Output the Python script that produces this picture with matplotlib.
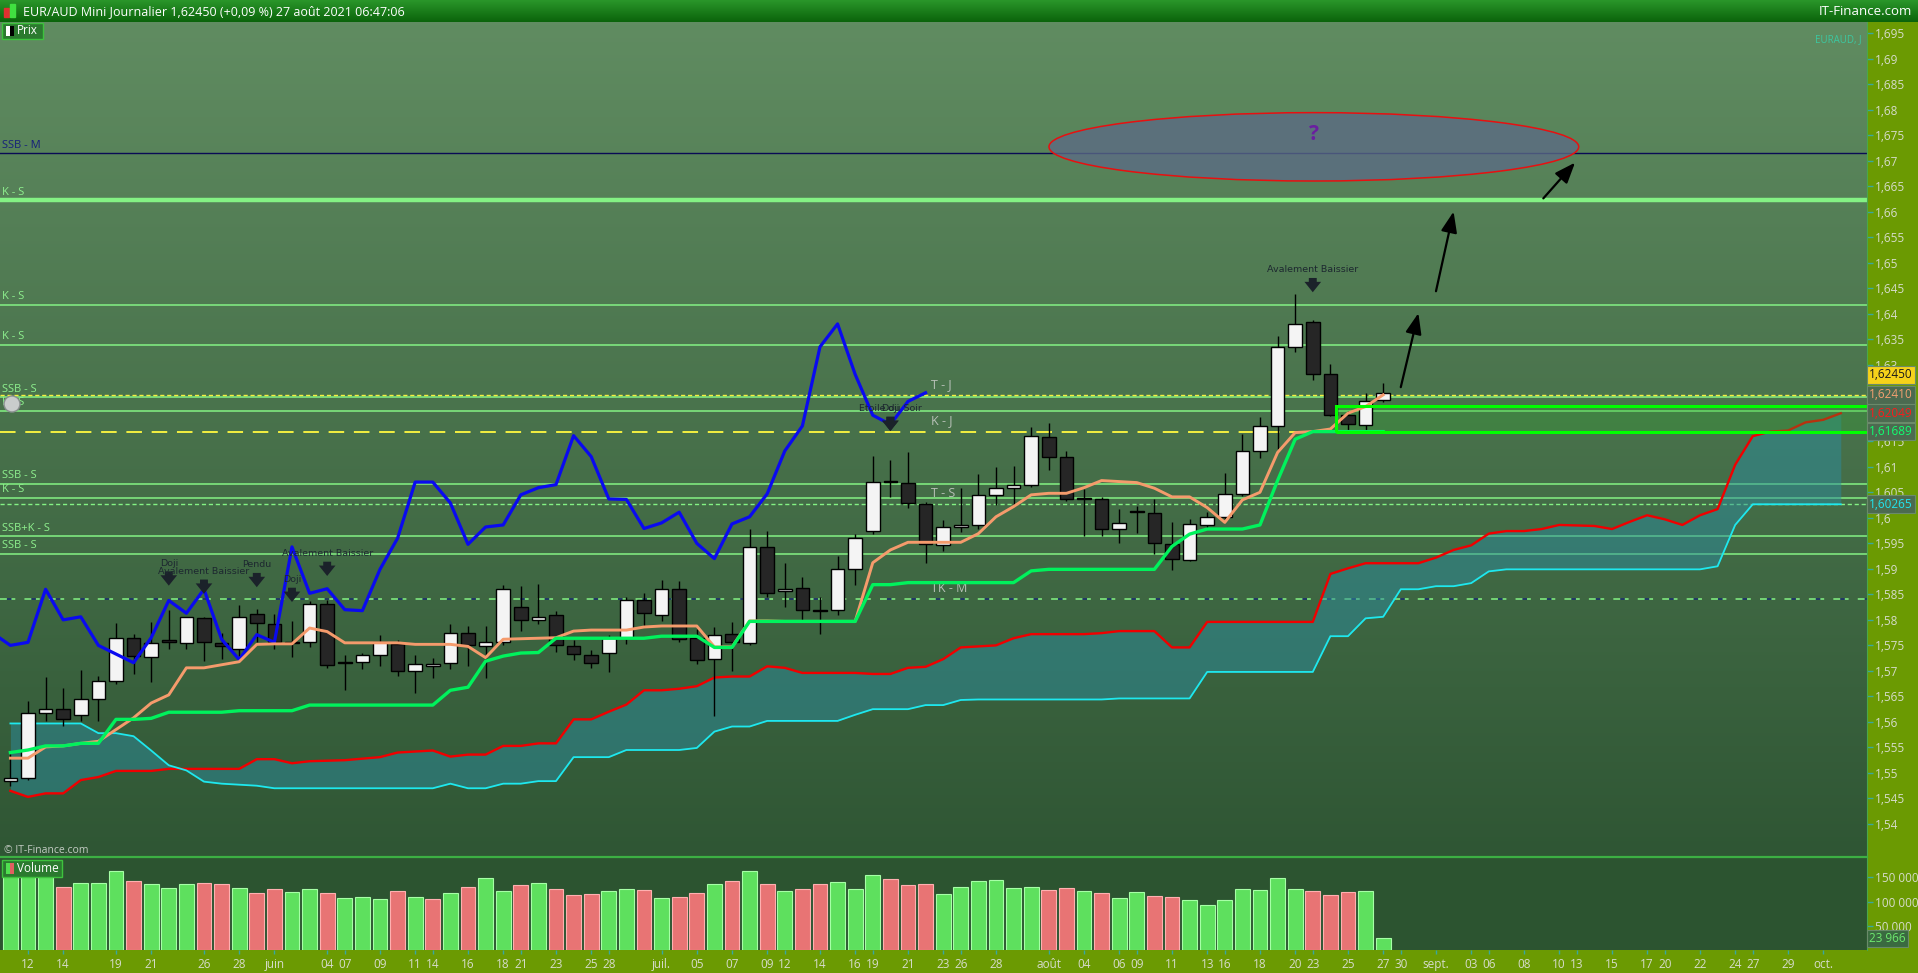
import numpy as np
import matplotlib.pyplot as plt
import matplotlib.transforms as mtransforms
from matplotlib.patches import Rectangle, Ellipse, Circle
from matplotlib.colors import LinearSegmentedColormap

plt.rcParams['font.family'] = ['Open Sans', 'DejaVu Sans']

# EUR/AUD daily candles read off the IT-Finance screen (11 May -> 27 Aug 2021)
# x counts trading days only: 0 = Wed 12 May 2021, the first candle (-1) is 11 May
start = -1

opens = [1.5484, 1.5490, 1.5617, 1.5625, 1.5613, 1.5644, 1.5680, 1.5765, 1.5728, 1.5760,
         1.5754, 1.5804, 1.5755, 1.5743, 1.5812, 1.5792, 1.5757, 1.5756, 1.5831, 1.5717,
         1.5717, 1.5731, 1.5753, 1.5699, 1.5709, 1.5715, 1.5774, 1.5749, 1.5757, 1.5825,
         1.5799, 1.5809, 1.5748, 1.5731, 1.5736, 1.5765, 1.5838, 1.5809, 1.5860, 1.5765,
         1.5723, 1.5772, 1.5755, 1.5943, 1.5856, 1.5862, 1.5820, 1.5819, 1.5899, 1.5974,
         1.6073, 1.6068, 1.6027, 1.5946, 1.5982, 1.5985, 1.6045, 1.6059, 1.6065, 1.6159,
         1.6120, 1.6038, 1.6037, 1.5978, 1.6013, 1.6010, 1.5948, 1.5918, 1.5985, 1.6001,
         1.6047, 1.6130, 1.6180, 1.6335, 1.6383, 1.6282, 1.6201, 1.6182, 1.6230]
highs = [1.5537, 1.5641, 1.5688, 1.5667, 1.5701, 1.5690, 1.5793, 1.5772, 1.5796, 1.5820,
         1.5806, 1.5806, 1.5775, 1.5829, 1.5821, 1.5811, 1.5798, 1.5837, 1.5838, 1.5731,
         1.5736, 1.5771, 1.5760, 1.5731, 1.5725, 1.5792, 1.5788, 1.5788, 1.5868, 1.5867,
         1.5870, 1.5817, 1.5761, 1.5741, 1.5771, 1.5845, 1.5853, 1.5878, 1.5876, 1.5782,
         1.5786, 1.5796, 1.5978, 1.5975, 1.5912, 1.5884, 1.5845, 1.5925, 1.5968, 1.6122,
         1.6114, 1.6129, 1.6030, 1.5996, 1.6059, 1.6086, 1.6100, 1.6102, 1.6177, 1.6185,
         1.6131, 1.6057, 1.6040, 1.6017, 1.6024, 1.6037, 1.5992, 1.5997, 1.6011, 1.6087,
         1.6165, 1.6198, 1.6357, 1.6438, 1.6387, 1.6302, 1.6210, 1.6244, 1.6265]
lows = [1.5474, 1.5487, 1.5602, 1.5592, 1.5602, 1.5602, 1.5674, 1.5694, 1.5679, 1.5742,
        1.5743, 1.5719, 1.5723, 1.5729, 1.5756, 1.5742, 1.5728, 1.5747, 1.5705, 1.5663,
        1.5703, 1.5710, 1.5690, 1.5656, 1.5686, 1.5704, 1.5709, 1.5687, 1.5751, 1.5778,
        1.5792, 1.5738, 1.5722, 1.5705, 1.5698, 1.5753, 1.5786, 1.5798, 1.5756, 1.5714,
        1.5612, 1.5700, 1.5751, 1.5844, 1.5825, 1.5798, 1.5773, 1.5810, 1.5868, 1.5969,
        1.6041, 1.6019, 1.5912, 1.5934, 1.5973, 1.5978, 1.6025, 1.6024, 1.6061, 1.6094,
        1.6032, 1.5965, 1.5965, 1.5951, 1.5971, 1.5930, 1.5898, 1.5915, 1.5981, 1.5997,
        1.6043, 1.6117, 1.6134, 1.6325, 1.6271, 1.6200, 1.6171, 1.6171, 1.6227]
closes = [1.5490, 1.5617, 1.5625, 1.5606, 1.5644, 1.5680, 1.5765, 1.5729, 1.5754, 1.5756,
          1.5805, 1.5756, 1.5749, 1.5805, 1.5793, 1.5756, 1.5754, 1.5831, 1.5712, 1.5716,
          1.5731, 1.5756, 1.5700, 1.5714, 1.5714, 1.5774, 1.5750, 1.5756, 1.5860, 1.5800,
          1.5806, 1.5750, 1.5733, 1.5716, 1.5765, 1.5838, 1.5813, 1.5860, 1.5762, 1.5722,
          1.5771, 1.5756, 1.5943, 1.5852, 1.5861, 1.5820, 1.5818, 1.5899, 1.5960, 1.6070,
          1.6070, 1.6029, 1.5948, 1.5982, 1.5986, 1.6045, 1.6059, 1.6065, 1.6161, 1.6120,
          1.6037, 1.6036, 1.5979, 1.5990, 1.6011, 1.5950, 1.5920, 1.5988, 1.6002, 1.6047,
          1.6131, 1.6180, 1.6335, 1.6380, 1.6281, 1.6201, 1.6183, 1.6228, 1.62450]

volumes = [153500, 157000, 157000, 131000, 138000, 138000, 162500, 143700, 136000, 129000,
           136000, 138000, 136000, 129000, 117000, 127000, 119000, 127000, 117000, 108000,
           110000, 105000, 121000, 110000, 105000, 117000, 131000, 148000, 121000, 134000,
           138000, 126000, 113000, 115000, 121000, 126000, 124000, 108000, 110000, 117000,
           136000, 142000, 162500, 136000, 121000, 127000, 136000, 140000, 126000, 155000,
           146500, 134000, 136000, 115000, 131000, 142000, 144000, 129000, 131000, 125000,
           129000, 121000, 117000, 108000, 119000, 112500, 110000, 104000, 94000, 104000,
           127000, 125000, 148000, 127000, 121000, 114600, 119000, 121000, 23966]
# G = green bar, R = red bar
vol_side = list("GGGRGGGRGGGRRGRRGGRGGGRGRGRGGRGRRRGGRGRRGRGRGRRGGGRRRGG"
                "GGGGRRGRGGRRGGGGGGGRRRGG")

tenkan = [1.5529, 1.5529, 1.5551, 1.5553, 1.5558, 1.5562, 1.5585, 1.5608, 1.5637, 1.5653,
          1.5706, 1.5706, 1.5712, 1.5718, 1.5752, 1.5753, 1.5753, 1.5784, 1.5777, 1.5755,
          1.5755, 1.5755, 1.5755, 1.5752, 1.5752, 1.5752, 1.5748, 1.5726, 1.5762, 1.5763,
          1.5764, 1.5765, 1.5778, 1.5780, 1.5780, 1.5780, 1.5786, 1.5788, 1.5788, 1.5788,
          1.5747, 1.5747, 1.5798, 1.5798, 1.5797, 1.5797, 1.5797, 1.5797, 1.5797, 1.5912,
          1.5937, 1.5952, 1.5952, 1.5952, 1.5952, 1.5969, 1.6002, 1.6022, 1.6045, 1.6048,
          1.6048, 1.6059, 1.6073, 1.6071, 1.6069, 1.6058, 1.6041, 1.6041, 1.6020, 1.5991,
          1.6035, 1.6050, 1.6128, 1.6167, 1.6169, 1.6174, 1.6205, 1.6218, 1.62410]
kijun = [1.5540, 1.5545, 1.5553, 1.5553, 1.5558, 1.5558, 1.5605, 1.5605, 1.5607, 1.5619,
         1.5619, 1.5619, 1.5619, 1.5622, 1.5622, 1.5622, 1.5622, 1.5633, 1.5633, 1.5633,
         1.5633, 1.5633, 1.5633, 1.5633, 1.5633, 1.5662, 1.5668, 1.5719, 1.5729, 1.5735,
         1.5736, 1.5764, 1.5764, 1.5764, 1.5764, 1.5764, 1.5764, 1.5768, 1.5768, 1.5768,
         1.5746, 1.5746, 1.5797, 1.5797, 1.5797, 1.5797, 1.5797, 1.5797, 1.5797, 1.5869,
         1.5869, 1.5873, 1.5873, 1.5873, 1.5873, 1.5873, 1.5873, 1.5873, 1.5896, 1.5899,
         1.5899, 1.5899, 1.5899, 1.5899, 1.5899, 1.5899, 1.5944, 1.5968, 1.5978, 1.5978,
         1.5978, 1.5986, 1.6073, 1.6154, 1.61689, 1.61689, 1.61689, 1.61689, 1.61689]

# senkou spans run 26 days past the last candle (index -1 .. 103)
ssa = [1.5465, 1.5453, 1.5460, 1.5460, 1.5486, 1.5492, 1.5504, 1.5504, 1.5504, 1.5508,
       1.5508, 1.5508, 1.5508, 1.5508, 1.5527, 1.5527, 1.5519, 1.5523, 1.5524, 1.5525,
       1.5528, 1.5531, 1.5540, 1.5542, 1.5544, 1.5532, 1.5536, 1.5536, 1.5553, 1.5553,
       1.5558, 1.5558, 1.5605, 1.5605, 1.5620, 1.5634, 1.5662, 1.5662, 1.5665, 1.5670,
       1.5687, 1.5689, 1.5689, 1.5709, 1.5706, 1.5696, 1.5696, 1.5696, 1.5696, 1.5694,
       1.5694, 1.5706, 1.5708, 1.5723, 1.5746, 1.5748, 1.5750, 1.5764, 1.5772, 1.5772,
       1.5772, 1.5772, 1.5774, 1.5778, 1.5778, 1.5778, 1.5746, 1.5746, 1.5796, 1.5796,
       1.5796, 1.5796, 1.5796, 1.5796, 1.5796, 1.5890, 1.5901, 1.5911, 1.5911, 1.5911,
       1.5911, 1.5922, 1.5937, 1.5946, 1.5969, 1.5974, 1.5974, 1.5978, 1.5986, 1.5985,
       1.5984, 1.5978, 1.5992, 1.6005, 1.5997, 1.5986, 1.6005, 1.6017, 1.6104, 1.6160,
       1.6169, 1.6171, 1.6187, 1.6192, 1.62049]
ssb = [1.5597, 1.5597, 1.5597, 1.5597, 1.5597, 1.5578, 1.5578, 1.5572, 1.5544, 1.5515,
       1.5505, 1.5483, 1.5479, 1.5477, 1.5475, 1.5470, 1.5470, 1.5470, 1.5470, 1.5470,
       1.5470, 1.5470, 1.5470, 1.5470, 1.5470, 1.5479, 1.5470, 1.5470, 1.5479, 1.5479,
       1.5484, 1.5484, 1.5531, 1.5531, 1.5531, 1.5545, 1.5545, 1.5545, 1.5545, 1.5549,
       1.5581, 1.5591, 1.5591, 1.5602, 1.5602, 1.5602, 1.5602, 1.5602, 1.5614, 1.5625,
       1.5625, 1.5625, 1.5633, 1.5633, 1.5643, 1.5644, 1.5644, 1.5644, 1.5644, 1.5644,
       1.5644, 1.5644, 1.5644, 1.5646, 1.5646, 1.5646, 1.5646, 1.5646, 1.5698, 1.5698,
       1.5698, 1.5698, 1.5698, 1.5698, 1.5698, 1.5768, 1.5768, 1.5803, 1.5806, 1.5860,
       1.5860, 1.5866, 1.5866, 1.5872, 1.5895, 1.5899, 1.5899, 1.5899, 1.5899, 1.5899,
       1.5899, 1.5899, 1.5899, 1.5899, 1.5899, 1.5899, 1.5899, 1.5905, 1.5986, 1.60265,
       1.60265, 1.60265, 1.60265, 1.60265, 1.60265]

# levels drawn on the chart
level_names = ['SSB - M', 'K - S', 'K - S', 'K - S', 'SSB - S', 'K - S', 'SSB - S', 'K - S', 'SSB+K - S', 'SSB - S']
level_prices = [1.6715, 1.6622, 1.6418, 1.6339, 1.6236, 1.6210, 1.6067, 1.6039, 1.5964, 1.5929]
dash_names = ['T - J', 'K - J', 'T - S', 'TK - M']
dash_prices = [1.62410, 1.61689, 1.6027, 1.5840]

# candle pattern flags
pat_x = [8, 10, 13, 15, 17, 49, 49, 73]
pat_text = ['Doji', 'Avalement Baissier', 'Pendu', 'Doji', 'Avalement Baissier',
            'Etoile du Soir', 'Doji', 'Avalement Baissier']
pat_y = [1.5911, 1.5895, 1.5908, 1.5879, 1.5930, 1.6214, 1.6214, 1.6486]

# hand drawn projection arrows (from, to)
proj_from = [(78.0, 1.6256), (80.0, 1.6444), (86.1, 1.6626)]
proj_to = [(79.0, 1.6401), (81.0, 1.6600), (87.9, 1.6696)]

# x axis labels (trading day index)
tick_pos = [0, 2, 5, 7, 10, 12, 14, 17, 18, 20, 22, 23, 25, 27, 28, 30, 32, 33, 36, 38,
            40, 42, 43, 45, 47, 48, 50, 52, 53, 55, 58, 60, 62, 63, 65, 67, 68, 70, 72, 73,
            75, 77, 78, 80, 82, 83, 85, 87, 88, 90, 92, 93, 95, 97, 98, 100, 102]
tick_lab = ['12', '14', '19', '21', '26', '28', 'juin', '04', '07', '09', '11', '14', '16', '18',
            '21', '23', '25', '28', 'juil.', '05', '07', '09', '12', '14', '16', '19', '21', '23',
            '26', '28', 'août', '04', '06', '09', '11', '13', '16', '18', '20', '23', '25', '27',
            '30', 'sept.', '03', '06', '08', '10', '13', '15', '17', '20', '22', '24', '27', '29', 'oct.']

assert len(opens) == len(highs) == len(lows) == len(closes) == len(volumes) == len(vol_side)
assert len(tenkan) == len(kijun) == len(closes) and len(ssa) == len(ssb) == len(closes) + 26

x_c = np.arange(start, start + len(closes))
x_s = np.arange(start, start + len(ssa))

#============================ figure layout ============================
W, H = 1918, 973
OLIVE = '#6b9a02'
fig = plt.figure(figsize=(W / 100, H / 100), dpi=100, facecolor=OLIVE)


def box(x0, y0, x1, y1):
    # pixel box with top-left origin -> figure rect
    return [x0 / W, 1 - y1 / H, (x1 - x0) / W, (y1 - y0) / H]


axh = fig.add_axes(box(0, 0, W, 22))
ax = fig.add_axes(box(0, 22, 1867, 857))
axv = fig.add_axes(box(0, 857, 1867, 950), sharex=ax)

xmin, xmax = -1.59, 104.49
ymin, ymax = 1.53353, 1.69716

# header bar
axh.imshow(np.linspace(0, 1, 32).reshape(-1, 1), aspect='auto', extent=[0, 1, 0, 1],
           cmap=LinearSegmentedColormap.from_list('hd', ['#2a962a', '#0b640b']))
axh.set_xlim(0, 1)
axh.set_ylim(0, 1)
axh.set_axis_off()
axh.add_patch(Rectangle((0.0022, 0.22), 0.0026, 0.42, color='#e03030'))
axh.add_patch(Rectangle((0.0052, 0.22), 0.0026, 0.6, color='#40e040'))
axh.text(0.012, 0.48, 'EUR/AUD Mini Journalier 1,62450 (+0,09 %) 27 août 2021 06:47:06',
         color='white', fontsize=9, va='center')
axh.text(0.997, 0.48, 'IT-Finance.com', color='white', fontsize=9.5, va='center', ha='right')

# price panel background gradient
bg = LinearSegmentedColormap.from_list('bg', ['#608c61', '#2f5634'])
ax.imshow(np.linspace(0, 1, 256).reshape(-1, 1), cmap=bg, aspect='auto',
          extent=[xmin, xmax, ymin, ymax], origin='upper', zorder=0)

#============================ levels ============================
for name, p in zip(level_names, level_prices):
    if name == 'SSB - M':
        ax.axhline(p, color='#0a0a55', lw=1.0, zorder=2)
        ax.text(-1.45, p + 0.0004, name, color='#16207a', fontsize=8, va='bottom', zorder=2)
    else:
        lw = 3.2 if p == 1.6622 else 1.1
        ax.axhline(p, color='#84f284', lw=lw, zorder=2)
        ax.text(-1.45, p + 0.0005, name, color='#8ef08e', fontsize=8, va='bottom', zorder=2)

ax.axhline(dash_prices[0], color='#f4f040', lw=1.0, ls=(0, (3, 2)), zorder=2)
ax.axhline(dash_prices[1], color='#f4f040', lw=1.4, ls=(0, (8, 5)), zorder=2)
ax.axhline(dash_prices[2], color='#84f284', lw=1.0, ls=(0, (3, 2)), zorder=2)
ax.axhline(dash_prices[3], color='#84f284', lw=1.1, ls=(0, (10, 6)), zorder=2)
ax.axhline(dash_prices[3], color='#0a0a60', lw=1.1, ls=(11.5, (3, 13)), zorder=2)
for name, p in zip(dash_names, dash_prices):
    ax.text(51.3, p + 0.0008, name, color='#b7c0b7', fontsize=9, va='bottom', zorder=2)

#============================ ichimoku cloud ============================
ax.fill_between(x_s, ssa, ssb, color='#2c8c9e', alpha=0.5, lw=0, zorder=2.5)
ax.plot(x_s, ssa, color='#f00000', lw=1.7, zorder=3)
ax.plot(x_s, ssb, color='#1ee8ee', lw=1.3, zorder=3)

# zone drawn around the last candles: fill behind them, frame on top
zone_x, zone_top = 74.3, 1.6220
ax.add_patch(Rectangle((zone_x, kijun[-1]), 40, zone_top - kijun[-1], fc=(0.2, 0.65, 0.2, 0.3),
                       lw=0, zorder=3.5))
ax.add_patch(Rectangle((zone_x, kijun[-1]), 40, zone_top - kijun[-1], fill=False,
                       ec='#00ff00', lw=2.2, zorder=6))

#============================ candles ============================
o = np.array(opens)
c = np.array(closes)
up = c >= o
ax.vlines(x_c, lows, highs, color='black', lw=1.0, zorder=4)
body_low = np.minimum(o, c)
body_h = np.maximum(np.abs(c - o), 0.00012)
ax.bar(x_c, body_h, bottom=body_low, width=0.78,
       color=np.where(up, '#f4f4f4', '#262626'), edgecolor='black', lw=1.0, zorder=4.5)

# chikou, tenkan, kijun on top
ax.plot(x_c - 26, closes, color='#0a0af0', lw=2.3, zorder=5)
ax.plot(x_c, tenkan, color='#f59b6c', lw=2.1, zorder=5.1)
ax.plot(x_c, kijun, color='#00f25c', lw=2.4, zorder=5.2)

#============================ drawings ============================
ax.add_patch(Ellipse((73.06, 1.6727), 30.1, 0.0134, fc=(0.36, 0.42, 0.52, 0.78),
                     ec='#e81010', lw=1.1, zorder=6))
ax.text(73.06, 1.6751, '?', color='#6a1fa0', fontsize=15, fontweight='bold',
        ha='center', va='center', zorder=7)
for a, b in zip(proj_from, proj_to):
    ax.annotate('', xy=b, xytext=a, zorder=7,
                arrowprops=dict(arrowstyle='-|>,head_length=0.9,head_width=0.35', color='black',
                                lw=1.6, shrinkA=0, shrinkB=0, mutation_scale=14))

for px, txt, py in zip(pat_x, pat_text, pat_y):
    ax.text(px, py, txt, color='#1d2830', fontsize=6.8, ha='center', va='center',
            family='DejaVu Sans', zorder=7)
    ax.annotate('', xy=(px, py - 0.0044), xytext=(px, py - 0.0016), zorder=7,
                arrowprops=dict(arrowstyle='simple,head_length=0.5,head_width=0.8,tail_width=0.38',
                                fc='#1b222a', ec='#1b222a', lw=0, shrinkA=0, shrinkB=0,
                                mutation_scale=15))

ax.text(0.997, 0.985, 'EURAUD, J', transform=ax.transAxes, color='#3cc8a0', fontsize=7,
        ha='right', va='top')
ax.text(0.002, 0.001, '© IT-Finance.com', transform=ax.transAxes, color='#c4ccc4',
        fontsize=7.5, ha='left', va='bottom')

ax.set_xlim(xmin, xmax)
ax.set_ylim(ymin, ymax)

#============================ price axis ============================
yt = np.round(np.arange(1.54, 1.6951, 0.005), 3)
ax.set_yticks(yt)
# 1,62 and 1,625 sit under the value boxes on the screen
ax.set_yticklabels(['' if v in (1.62, 1.625) else ('%.3f' % v).rstrip('0').replace('.', ',')
                    for v in yt])
for v, lab in zip(yt, ax.get_yticklabels()):
    if v in (1.55, 1.6, 1.65):
        lab.set_fontweight('bold')
ax.yaxis.tick_right()
ax.tick_params(axis='y', colors='#38a8a0', labelcolor='#d6dccb', length=4, width=1,
               pad=2, labelsize=8.5)
ax.tick_params(axis='x', bottom=False, labelbottom=False)
for s in ['left', 'top', 'bottom']:
    ax.spines[s].set_visible(False)
ax.spines['right'].set_color('#4aa84a')

#============================ volume panel ============================
axv.set_facecolor('#2c5430')
vol_fc = ['#5ee05e' if s == 'G' else '#e87474' for s in vol_side]
vol_ec = ['#a6ffa6' if s == 'G' else '#ffb0b0' for s in vol_side]
axv.bar(x_c, volumes, width=0.84, color=vol_fc, edgecolor=vol_ec, lw=0.8, zorder=3)
axv.set_ylim(0, 192300)
axv.set_yticks([50000, 100000, 150000])
axv.set_yticklabels(['50 000', '100 000', '150 000'])
axv.yaxis.tick_right()
axv.tick_params(axis='y', colors='#38a8a0', labelcolor='#d6dccb', length=4, width=1,
                pad=2, labelsize=8.5)
axv.set_xticks(tick_pos)
axv.set_xticklabels(tick_lab)
axv.tick_params(axis='x', colors='#38a8a0', labelcolor='#d6dccb', length=3, width=1,
                pad=3, labelsize=8.5)
for s in ['left', 'bottom']:
    axv.spines[s].set_visible(False)
axv.spines['top'].set_color('#3cb043')
axv.spines['top'].set_linewidth(1.6)
axv.spines['right'].set_color('#4aa84a')
axv.set_xlim(xmin, xmax)

#============================ legends and value boxes ============================
fig.patches.append(Rectangle((2 / W, 1 - 39 / H), 41 / W, 16 / H, transform=fig.transFigure,
                             fc='#2b7a2f', ec='#3ec23e', lw=1))
fig.patches.append(Rectangle((6 / W, 1 - 36 / H), 4 / W, 10 / H, transform=fig.transFigure, fc='white'))
fig.patches.append(Rectangle((10 / W, 1 - 36 / H), 4 / W, 10 / H, transform=fig.transFigure, fc='black'))
fig.text(17 / W, 1 - 31 / H, 'Prix', color='white', fontsize=8.5, va='center')

fig.patches.append(Rectangle((2 / W, 1 - 877 / H), 60 / W, 17 / H, transform=fig.transFigure,
                             fc='#2b7a2f', ec='#3ec23e', lw=1))
fig.patches.append(Rectangle((6 / W, 1 - 874 / H), 4 / W, 11 / H, transform=fig.transFigure, fc='#50e050'))
fig.patches.append(Rectangle((10 / W, 1 - 874 / H), 4 / W, 11 / H, transform=fig.transFigure, fc='#e06060'))
fig.text(17 / W, 1 - 868.5 / H, 'Volume', color='white', fontsize=8.5, va='center')

# grey marker covering the start of one level label
fig.patches.append(Circle((12, H - 404), 8, transform=mtransforms.IdentityTransform(),
                          fc='#c9cccc', ec='#8a9090', lw=1))

tr = mtransforms.blended_transform_factory(fig.transFigure, ax.transData)
boxes = [(closes[-1] + 0.0035, closes[-1], '#1a1a1a', '#f6d21a'),
         (tenkan[-1], tenkan[-1], '#f4a070', '#4c6a50'),
         (ssa[-1], ssa[-1], '#ff1a1a', '#4c6a50'),
         (kijun[-1], kijun[-1], '#10ff70', '#4c6a50'),
         (ssb[-1], ssb[-1], '#20e6f0', '#4c6a50')]
for ypos, val, tc, fc in boxes:
    fig.text(1869 / W, ypos, ('%.5f' % val).replace('.', ','), transform=tr, color=tc,
             fontsize=8.5, va='center', ha='left', zorder=10,
             bbox=dict(boxstyle='square,pad=0.2', fc=fc, ec='#6a8a6a', lw=0.8))
trv = mtransforms.blended_transform_factory(fig.transFigure, axv.transData)
fig.text(1869 / W, volumes[-1], '{:,}'.format(volumes[-1]).replace(',', ' '), transform=trv,
         color='#6ee86e', fontsize=8.5, va='center', ha='left', zorder=10,
         bbox=dict(boxstyle='square,pad=0.2', fc='#3a6a40', ec='#6a8a6a', lw=0.8))

fig.savefig('out.png', dpi=100, facecolor=OLIVE)
